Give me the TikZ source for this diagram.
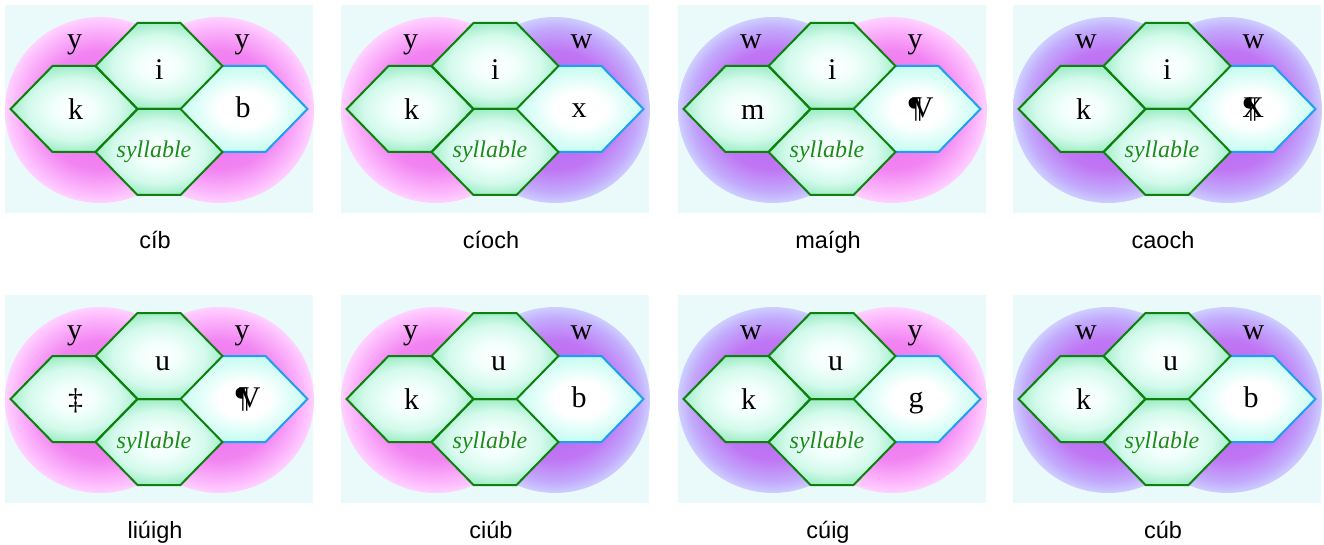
\documentclass[tikz,border=0pt]{standalone}
\usepackage{fontspec}
\setmainfont{Liberation Serif}
\newfontfamily\capfont{Liberation Sans}
\definecolor{bgc}{RGB}{234,250,250}
\definecolor{pinkA}{RGB}{232,104,232}
\definecolor{pinkB}{RGB}{242,132,242}
\definecolor{pinkC}{RGB}{252,182,252}
\definecolor{pinkD}{RGB}{255,210,255}
\definecolor{purpA}{RGB}{176,96,240}
\definecolor{purpB}{RGB}{192,118,244}
\definecolor{purpC}{RGB}{194,170,252}
\definecolor{purpD}{RGB}{206,206,255}
\definecolor{mintA}{RGB}{242,255,252}
\definecolor{mintB}{RGB}{212,250,236}
\definecolor{mintE}{RGB}{162,238,200}
\definecolor{cyanB}{RGB}{224,254,248}
\definecolor{cyanE}{RGB}{198,252,240}
\definecolor{hexgreen}{RGB}{14,128,14}
\definecolor{hexblue}{RGB}{30,160,240}
\definecolor{sylgreen}{RGB}{26,140,26}
\pgfdeclareradialshading{pinkblob}{\pgfpoint{0bp}{0bp}}{color(0bp)=(pinkA); color(16bp)=(pinkB); color(22bp)=(pinkC); color(25bp)=(pinkD); color(50bp)=(pinkD)}
\pgfdeclareradialshading{purpblob}{\pgfpoint{0bp}{0bp}}{color(0bp)=(purpA); color(16bp)=(purpB); color(22bp)=(purpC); color(25bp)=(purpD); color(50bp)=(purpD)}
\pgfdeclareradialshading{greenhex}{\pgfpoint{0bp}{0bp}}{color(0bp)=(white); color(8bp)=(mintA); color(18bp)=(mintB); color(25bp)=(mintE); color(50bp)=(mintE)}
\pgfdeclareradialshading{cyanhex}{\pgfpoint{0bp}{0bp}}{color(0bp)=(white); color(10bp)=(white); color(18bp)=(cyanB); color(25bp)=(cyanE); color(50bp)=(cyanE)}
\def\hexshape{(-63.5,0) -- (-21.5,-43) -- (21.5,-43) -- (63.5,0) -- (21.5,43) -- (-21.5,43) -- cycle}
\tikzset{
  hexline/.style={draw=hexgreen, line width=2pt},
  blueline/.style={draw=hexblue, line width=2pt},
  letter/.style={anchor=base west, inner sep=0pt, font=\fontsize{30}{36}\selectfont},
  syl/.style={anchor=base west, inner sep=0pt, text=sylgreen, font=\fontsize{24}{28}\selectfont\itshape},
  captext/.style={anchor=base, inner sep=0pt, font=\capfont\fontsize{23.5}{28}\selectfont},
}
\begin{document}
\begin{tikzpicture}[x=1pt,y=-1pt]
\useasboundingbox (0,0) rectangle (1324,545);
\foreach \n/\ox/\oy/\lc/\rc/\lt/\rt/\tk/\ti/\tb/\cp in {
  1/0/0/pinkblob/pinkblob/y/y/k/i/b/cíb,
  2/336/0/pinkblob/purpblob/y/w/k/i/x/cíoch,
  3/673/0/purpblob/pinkblob/w/y/m/i/{¶\kern-0.35em V}/maígh,
  4/1008/0/purpblob/purpblob/w/w/k/i/{¶\kern-0.5em X}/caoch,
  5/0/290/pinkblob/pinkblob/y/y/‡/u/{¶\kern-0.35em V}/liúigh,
  6/336/290/pinkblob/purpblob/y/w/k/u/b/ciúb,
  7/673/290/purpblob/pinkblob/w/y/k/u/g/cúig,
  8/1008/290/purpblob/purpblob/w/w/k/u/b/cúb}
{
  \begin{scope}[shift={(\ox,\oy)}]
    \fill[bgc] (5,5) rectangle (313,213);
    \shade[shading=\lc] (100,110) ellipse [x radius=95, y radius=93];
    \shade[shading=\rc] (219,110) ellipse [x radius=95, y radius=93];
    \shade[shading=cyanhex, shift={(244,109)}] \hexshape;
    \shade[shading=greenhex, shift={(74,109)}] \hexshape;
    \shade[shading=greenhex, shift={(159,66)}] \hexshape;
    \shade[shading=greenhex, shift={(159,152)}] \hexshape;
    \draw[blueline, shift={(244,109)}] (-21.5,-43) -- (21.5,-43) -- (63.5,0) -- (21.5,43) -- (-21.5,43);
    \draw[hexline, shift={(74,109)}] \hexshape;
    \draw[hexline, shift={(159,66)}] \hexshape;
    \draw[hexline, shift={(159,152)}] \hexshape;
    \node[letter] (lt\n) at (67,49) {\lt};
    \node[letter] (rt\n) at (234.5,49) {\rt};
    \node[letter] (k\n) at (68,119.5) {\tk};
    \node[letter] (i\n) at (155,80) {\ti};
    \node[letter] (b\n) at (235.5,117.5) {\tb};
    \node[syl] (s\n) at (116.5,158) {syllable};
    \node[captext] (c\n) at (155,248) {\cp};
  \end{scope}
}
\end{tikzpicture}
\end{document}
